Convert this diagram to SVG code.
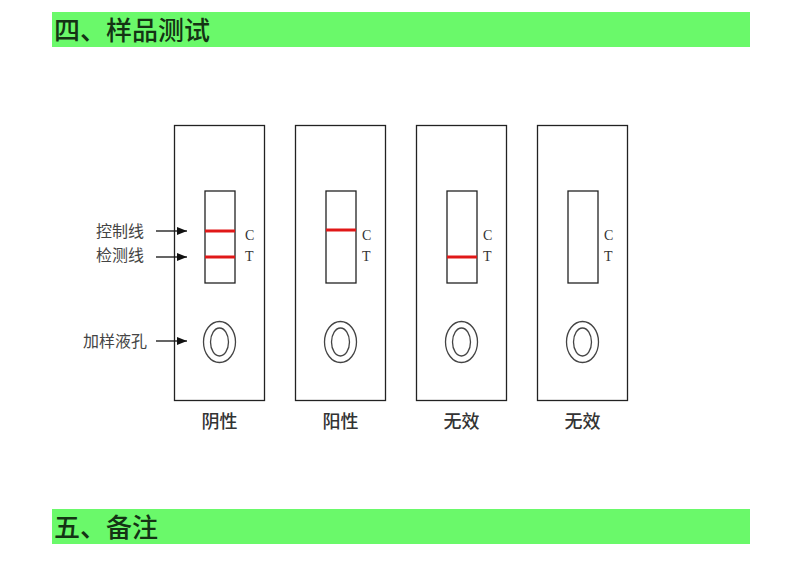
<svg xmlns="http://www.w3.org/2000/svg" width="800" height="565" viewBox="0 0 800 565">
<style>
.banner{fill:#6af96a}
.htxt{font-family:"Noto Sans CJK SC",sans-serif;font-size:26px;font-weight:500;fill:#143314}
.card{fill:#fff;stroke:#222;stroke-width:1.3}
.win{fill:#fff;stroke:#222;stroke-width:1.3}
.band{stroke:#e01818;stroke-width:3}
.ct{font-family:"Liberation Serif",serif;font-size:14px;fill:#333}
.well{fill:none;stroke:#444;stroke-width:1.3}
.lbl{font-family:"Noto Sans CJK SC",sans-serif;font-size:16px;fill:#444}
.res{font-family:"Noto Sans CJK SC",sans-serif;font-size:18px;font-weight:500;fill:#333;text-anchor:middle}
.arr{stroke:#111;stroke-width:1.3;fill:none;marker-end:url(#ah)}
</style>
<defs>
<marker id="ah" viewBox="0 0 10 10" refX="10" refY="5" markerWidth="10" markerHeight="10" markerUnits="userSpaceOnUse" orient="auto">
<path d="M0,1 L10,5 L0,9 Z" fill="#111"/>
</marker>
</defs>
<rect width="800" height="565" fill="#fff"/>
<g id="banner1">
<rect class="banner" x="52" y="12" width="698" height="35"/>
<text class="htxt" x="54" y="40">四、样品测试</text>
</g>
<g id="card1">
<rect class="card" x="174.5" y="125.5" width="90" height="275"/>
<rect class="win" x="205" y="191" width="30" height="92"/>
<line class="band" x1="205" y1="231" x2="235" y2="231"/>
<line class="band" x1="205" y1="257" x2="235" y2="257"/>
<text class="ct" x="245" y="240">C</text>
<text class="ct" x="245" y="261">T</text>
<ellipse class="well" cx="219.5" cy="342" rx="16" ry="20.5"/>
<ellipse class="well" cx="219.5" cy="342" rx="9" ry="14"/>
<text class="res" x="219.5" y="428">阴性</text>
</g>
<g id="card2">
<rect class="card" x="295.5" y="125.5" width="90" height="275"/>
<rect class="win" x="326" y="191" width="30" height="92"/>
<line class="band" x1="326" y1="230" x2="356" y2="230"/>
<text class="ct" x="362" y="240">C</text>
<text class="ct" x="362" y="261">T</text>
<ellipse class="well" cx="340.5" cy="342" rx="16" ry="20.5"/>
<ellipse class="well" cx="340.5" cy="342" rx="9" ry="14"/>
<text class="res" x="340.5" y="428">阳性</text>
</g>
<g id="card3">
<rect class="card" x="416.5" y="125.5" width="90" height="275"/>
<rect class="win" x="447" y="191" width="30" height="92"/>
<line class="band" x1="447" y1="257" x2="477" y2="257"/>
<text class="ct" x="483" y="240">C</text>
<text class="ct" x="483" y="261">T</text>
<ellipse class="well" cx="461.5" cy="342" rx="16" ry="20.5"/>
<ellipse class="well" cx="461.5" cy="342" rx="9" ry="14"/>
<text class="res" x="461.5" y="428">无效</text>
</g>
<g id="card4">
<rect class="card" x="537.5" y="125.5" width="90" height="275"/>
<rect class="win" x="568" y="191" width="30" height="92"/>
<text class="ct" x="604" y="240">C</text>
<text class="ct" x="604" y="261">T</text>
<ellipse class="well" cx="582.5" cy="342" rx="16" ry="20.5"/>
<ellipse class="well" cx="582.5" cy="342" rx="9" ry="14"/>
<text class="res" x="582.5" y="428">无效</text>
</g>
<g id="labels">
<text class="lbl" x="96" y="237">控制线</text>
<text class="lbl" x="96" y="261">检测线</text>
<text class="lbl" x="83" y="347">加样液孔</text>
</g>
<g id="connectors">
<line class="arr" x1="156" y1="231" x2="187" y2="231"/>
<line class="arr" x1="156" y1="257" x2="187" y2="257"/>
<line class="arr" x1="156" y1="341" x2="187" y2="341"/>
</g>
<g id="banner2">
<rect class="banner" x="52" y="509" width="698" height="35"/>
<text class="htxt" x="54" y="537">五、备注</text>
</g>
</svg>
